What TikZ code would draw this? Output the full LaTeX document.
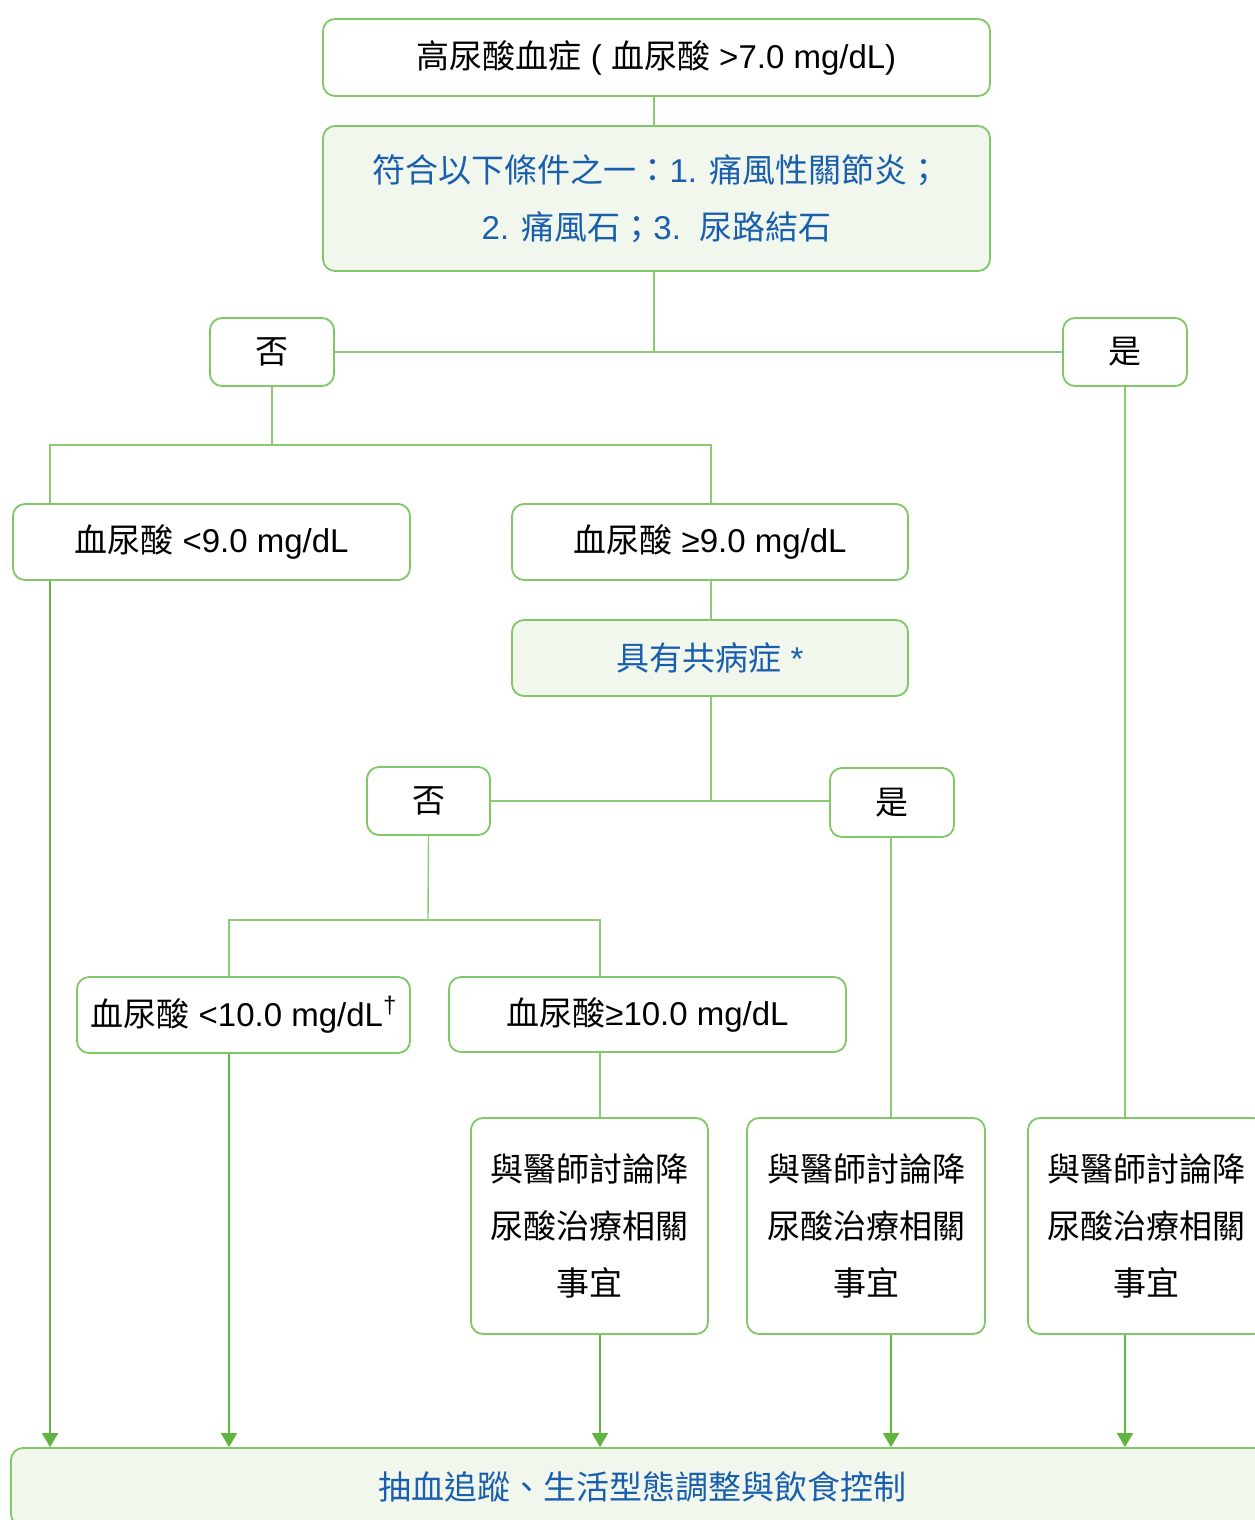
\documentclass[tikz,border=0pt]{standalone}
\usepackage{fontspec}
\setmainfont{Noto Sans CJK TC}
\newfontfamily\latfont{Liberation Sans}
\usetikzlibrary{arrows.meta}
\definecolor{gborder}{HTML}{80C766}
\definecolor{gline}{HTML}{8CCB74}
\definecolor{garrow}{HTML}{5FB53F}
\definecolor{gfill}{HTML}{F1F7EC}
\definecolor{btext}{HTML}{1A5FAE}
\newcommand{\lt}[1]{{\latfont #1}}
\tikzset{
  box/.style={draw=gborder, line width=1.8pt, rounded corners=12pt, inner sep=0pt,
    font=\fontsize{33}{57}\selectfont, align=center, text=black},
  greenbox/.style={box, fill=gfill, text=btext},
  conn/.style={draw=gline, line width=1.4pt},
  arr/.style={draw=garrow, line width=1.5pt, -{Triangle[width=16pt,length=14pt]}}
}
\begin{document}
\begin{tikzpicture}[x=1pt,y=-1pt]
\useasboundingbox (0,0) rectangle (1255,1520);
\clip (0,0) rectangle (1255,1520);
\fill[white] (0,0) rectangle (1255,1520);

% nodes
\node[box, minimum width=667pt, minimum height=77pt] (n1) at (656.5,57.5) {高尿酸血症\lt{ ( }血尿酸\lt{ >7.0 mg/dL)}};
\node[greenbox, minimum width=667pt, minimum height=145pt] (n2) at (656.5,198.5) {符合以下條件之一：\lt{1. }痛風性關節炎；\\\lt{2. }痛風石；\lt{3.\ \ }尿路結石};
\node[box, minimum width=124pt, minimum height=68pt] (no1) at (272,352) {否};
\node[box, minimum width=124pt, minimum height=68pt] (yes1) at (1125,352) {是};
\node[box, minimum width=397pt, minimum height=76pt] (a1) at (211.5,542) {血尿酸\lt{ <9.0 mg/dL}};
\node[box, minimum width=396pt, minimum height=76pt] (a2) at (710,542) {血尿酸\lt{ ≥9.0 mg/dL}};
\node[greenbox, minimum width=396pt, minimum height=76pt] (com) at (710,658) {具有共病症\lt{ *}};
\node[box, minimum width=123pt, minimum height=68pt] (no2) at (428.5,801) {否};
\node[box, minimum width=124pt, minimum height=69pt] (yes2) at (892,802.5) {是};
\node[box, minimum width=333pt, minimum height=76pt] (b1) at (243.5,1015) {血尿酸\lt{ <10.0 mg/dL\raisebox{0.75ex}{\fontsize{24}{24}\selectfont †}}};
\node[box, minimum width=397pt, minimum height=75pt] (b2) at (647.5,1014.5) {血尿酸\lt{≥10.0 mg/dL}};
\node[box, minimum width=237pt, minimum height=216pt] (c1) at (589.5,1226) {與醫師討論降\\尿酸治療相關\\事宜};
\node[box, minimum width=238pt, minimum height=216pt] (c2) at (866,1226) {與醫師討論降\\尿酸治療相關\\事宜};
\node[box, minimum width=237pt, minimum height=216pt] (c3) at (1146.5,1226) {與醫師討論降\\尿酸治療相關\\事宜};
\node[greenbox, minimum width=1262pt, minimum height=78pt] (bot) at (642,1487) {抽血追蹤、生活型態調整與飲食控制};

% column coordinates
\coordinate (xA) at (50,0);
\coordinate (xB) at (229,0);
\coordinate (xC) at (600,0);
\coordinate (xD) at (891,0);
\coordinate (xE) at (1125,0);
\coordinate (xM) at (654,0);
\coordinate (xN) at (711,0);
\coordinate (j1) at (272,445);
\coordinate (j2) at (428,920);

% connectors
\draw[conn] (xM |- n1.south) -- (xM |- n2.north);
\draw[conn] (xM |- n2.south) -- (xM |- no1.east);
\draw[conn] (no1.east) -- (yes1.west);
\draw[conn] (no1.south) -- (j1);
\draw[conn] (xA |- a1.north) -- (xA |- j1) -- (xN |- j1) -- (xN |- a2.north);
\draw[conn] (xN |- a2.south) -- (xN |- com.north);
\draw[conn] (xN |- com.south) -- (xN |- no2.east);
\draw[conn] (no2.east) -- (no2.east -| yes2.west);
\draw[conn] (no2.south) -- (j2);
\draw[conn] (xB |- b1.north) -- (xB |- j2) -- (xC |- j2) -- (xC |- b2.north);
\draw[conn] (xC |- b2.south) -- (xC |- c1.north);
\draw[conn] (xD |- yes2.south) -- (xD |- c2.north);
\draw[conn] (xE |- yes1.south) -- (xE |- c3.north);

% arrows
\draw[arr] (xA |- a1.south) -- (xA |- bot.north);
\draw[arr] (xB |- b1.south) -- (xB |- bot.north);
\draw[arr] (xC |- c1.south) -- (xC |- bot.north);
\draw[arr] (xD |- c2.south) -- (xD |- bot.north);
\draw[arr] (xE |- c3.south) -- (xE |- bot.north);
\end{tikzpicture}
\end{document}
